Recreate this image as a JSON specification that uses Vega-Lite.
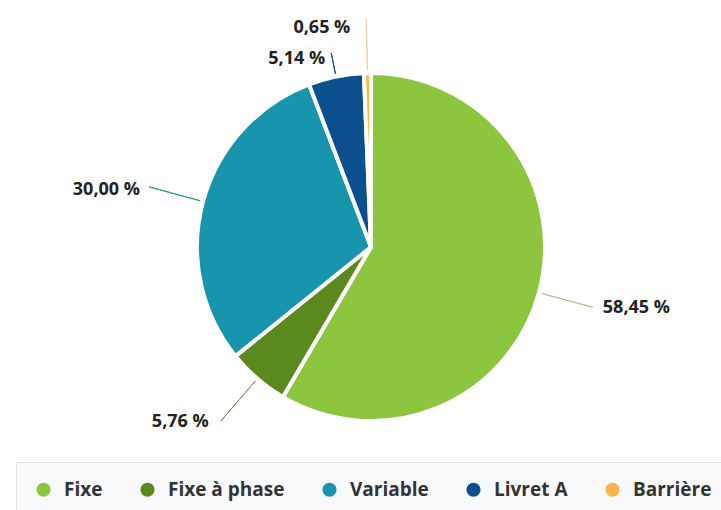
{
  "$schema": "https://vega.github.io/schema/vega-lite/v6.json",
  "width": 700,
  "height": 494,
  "autosize": {"type": "none"},
  "padding": {"left": 21, "top": 0, "right": 0, "bottom": 16},
  "background": "white",
  "data": {
    "values": [
      {"rang": 1, "categorie": "Fixe", "part": 58.45, "etiquette": "58,45 %"},
      {"rang": 2, "categorie": "Fixe à phase", "part": 5.76, "etiquette": "5,76 %"},
      {"rang": 3, "categorie": "Variable", "part": 30.00, "etiquette": "30,00 %"},
      {"rang": 4, "categorie": "Livret A", "part": 5.14, "etiquette": "5,14 %"},
      {"rang": 5, "categorie": "Barrière", "part": 0.65, "etiquette": "0,65 %"}
    ]
  },
  "encoding": {
    "theta": {"field": "part", "type": "quantitative", "stack": true, "scale": {"domain": [0, 100]}},
    "order": {"field": "rang", "type": "quantitative"},
    "detail": {"field": "categorie", "type": "nominal"}
  },
  "resolve": {"scale": {"theta": "independent"}},
  "layer": [
    {
      "mark": {"type": "arc", "outerRadius": 174, "stroke": "white", "strokeWidth": 4},
      "encoding": {
        "color": {
          "field": "categorie",
          "type": "nominal",
          "scale": {
            "domain": ["Fixe", "Fixe à phase", "Variable", "Livret A", "Barrière"],
            "range": ["#8cc63e", "#5a8a1e", "#1795ad", "#0b4f8f", "#fbb54c"]
          },
          "legend": {
            "orient": "none",
            "legendX": -5,
            "legendY": 462,
            "direction": "horizontal",
            "title": null,
            "padding": 18,
            "fillColor": "#f8f9fb",
            "strokeColor": "#e4e4e4",
            "symbolType": "circle",
            "symbolSize": 200,
            "symbolStrokeWidth": 0,
            "symbolOpacity": 1,
            "labelFont": "Open Sans",
            "labelFontSize": 19,
            "labelFontWeight": "bold",
            "labelColor": "#333333",
            "labelOffset": 11,
            "columnPadding": 35,
            "labelLimit": 0
          }
        }
      }
    },
    {
      "mark": {"type": "arc", "filled": false, "outerRadius": 230, "innerRadius": 177, "padAngle": 3.3, "stroke": "#b3c197", "strokeWidth": 1},
      "encoding": {
        "theta": {"field": "part", "type": "quantitative", "stack": true, "scale": {"domain": [0, 100], "range": [0.6673, 4.6673]}},
        "strokeOpacity": {"condition": {"test": "datum.categorie === 'Fixe'", "value": 1}, "value": 0}
      }
    },
    {
      "mark": {"type": "arc", "filled": false, "outerRadius": 230, "innerRadius": 177, "padAngle": 3.3, "stroke": "#8c8f6e", "strokeWidth": 1},
      "encoding": {"strokeOpacity": {"condition": {"test": "datum.categorie === 'Fixe à phase'", "value": 1}, "value": 0}}
    },
    {
      "mark": {"type": "arc", "filled": false, "outerRadius": 230, "innerRadius": 177, "padAngle": 3.3, "stroke": "#2b9a9c", "strokeWidth": 1},
      "encoding": {"strokeOpacity": {"condition": {"test": "datum.categorie === 'Variable'", "value": 1}, "value": 0}}
    },
    {
      "mark": {"type": "arc", "filled": false, "outerRadius": 198, "innerRadius": 177, "padAngle": 3.3, "stroke": "#1d4a7a", "strokeWidth": 1},
      "encoding": {"strokeOpacity": {"condition": {"test": "datum.categorie === 'Livret A'", "value": 1}, "value": 0}}
    },
    {
      "mark": {"type": "arc", "filled": false, "outerRadius": 228, "innerRadius": 177, "padAngle": 3.3, "stroke": "#ecd29a", "strokeWidth": 1},
      "encoding": {"strokeOpacity": {"condition": {"test": "datum.categorie === 'Barrière'", "value": 1}, "value": 0}}
    },
    {
      "mark": {"type": "text", "radius": 234, "align": "left", "baseline": "middle", "dx": 6, "dy": 0, "font": "Open Sans", "fontSize": 18, "fontWeight": "bold", "color": "#222222"},
      "encoding": {"text": {"condition": {"test": "datum.categorie === 'Fixe'", "field": "etiquette", "type": "nominal"}, "value": ""}}
    },
    {
      "mark": {"type": "text", "radius": 230, "align": "right", "baseline": "middle", "dx": -12, "dy": 1, "font": "Open Sans", "fontSize": 18, "fontWeight": "bold", "color": "#222222"},
      "encoding": {"text": {"condition": {"test": "datum.categorie === 'Fixe à phase'", "field": "etiquette", "type": "nominal"}, "value": ""}}
    },
    {
      "mark": {"type": "text", "radius": 230, "align": "right", "baseline": "middle", "dx": -9, "dy": 3, "font": "Open Sans", "fontSize": 18, "fontWeight": "bold", "color": "#222222"},
      "encoding": {"text": {"condition": {"test": "datum.categorie === 'Variable'", "field": "etiquette", "type": "nominal"}, "value": ""}}
    },
    {
      "mark": {"type": "text", "radius": 198, "align": "right", "baseline": "middle", "dx": -6, "dy": 6, "font": "Open Sans", "fontSize": 18, "fontWeight": "bold", "color": "#222222"},
      "encoding": {"text": {"condition": {"test": "datum.categorie === 'Livret A'", "field": "etiquette", "type": "nominal"}, "value": ""}}
    },
    {
      "mark": {"type": "text", "radius": 228, "align": "right", "baseline": "middle", "dx": -16, "dy": 9, "font": "Open Sans", "fontSize": 18, "fontWeight": "bold", "color": "#222222"},
      "encoding": {"text": {"condition": {"test": "datum.categorie === 'Barrière'", "field": "etiquette", "type": "nominal"}, "value": ""}}
    }
  ],
  "config": {"view": {"stroke": null}}
}
